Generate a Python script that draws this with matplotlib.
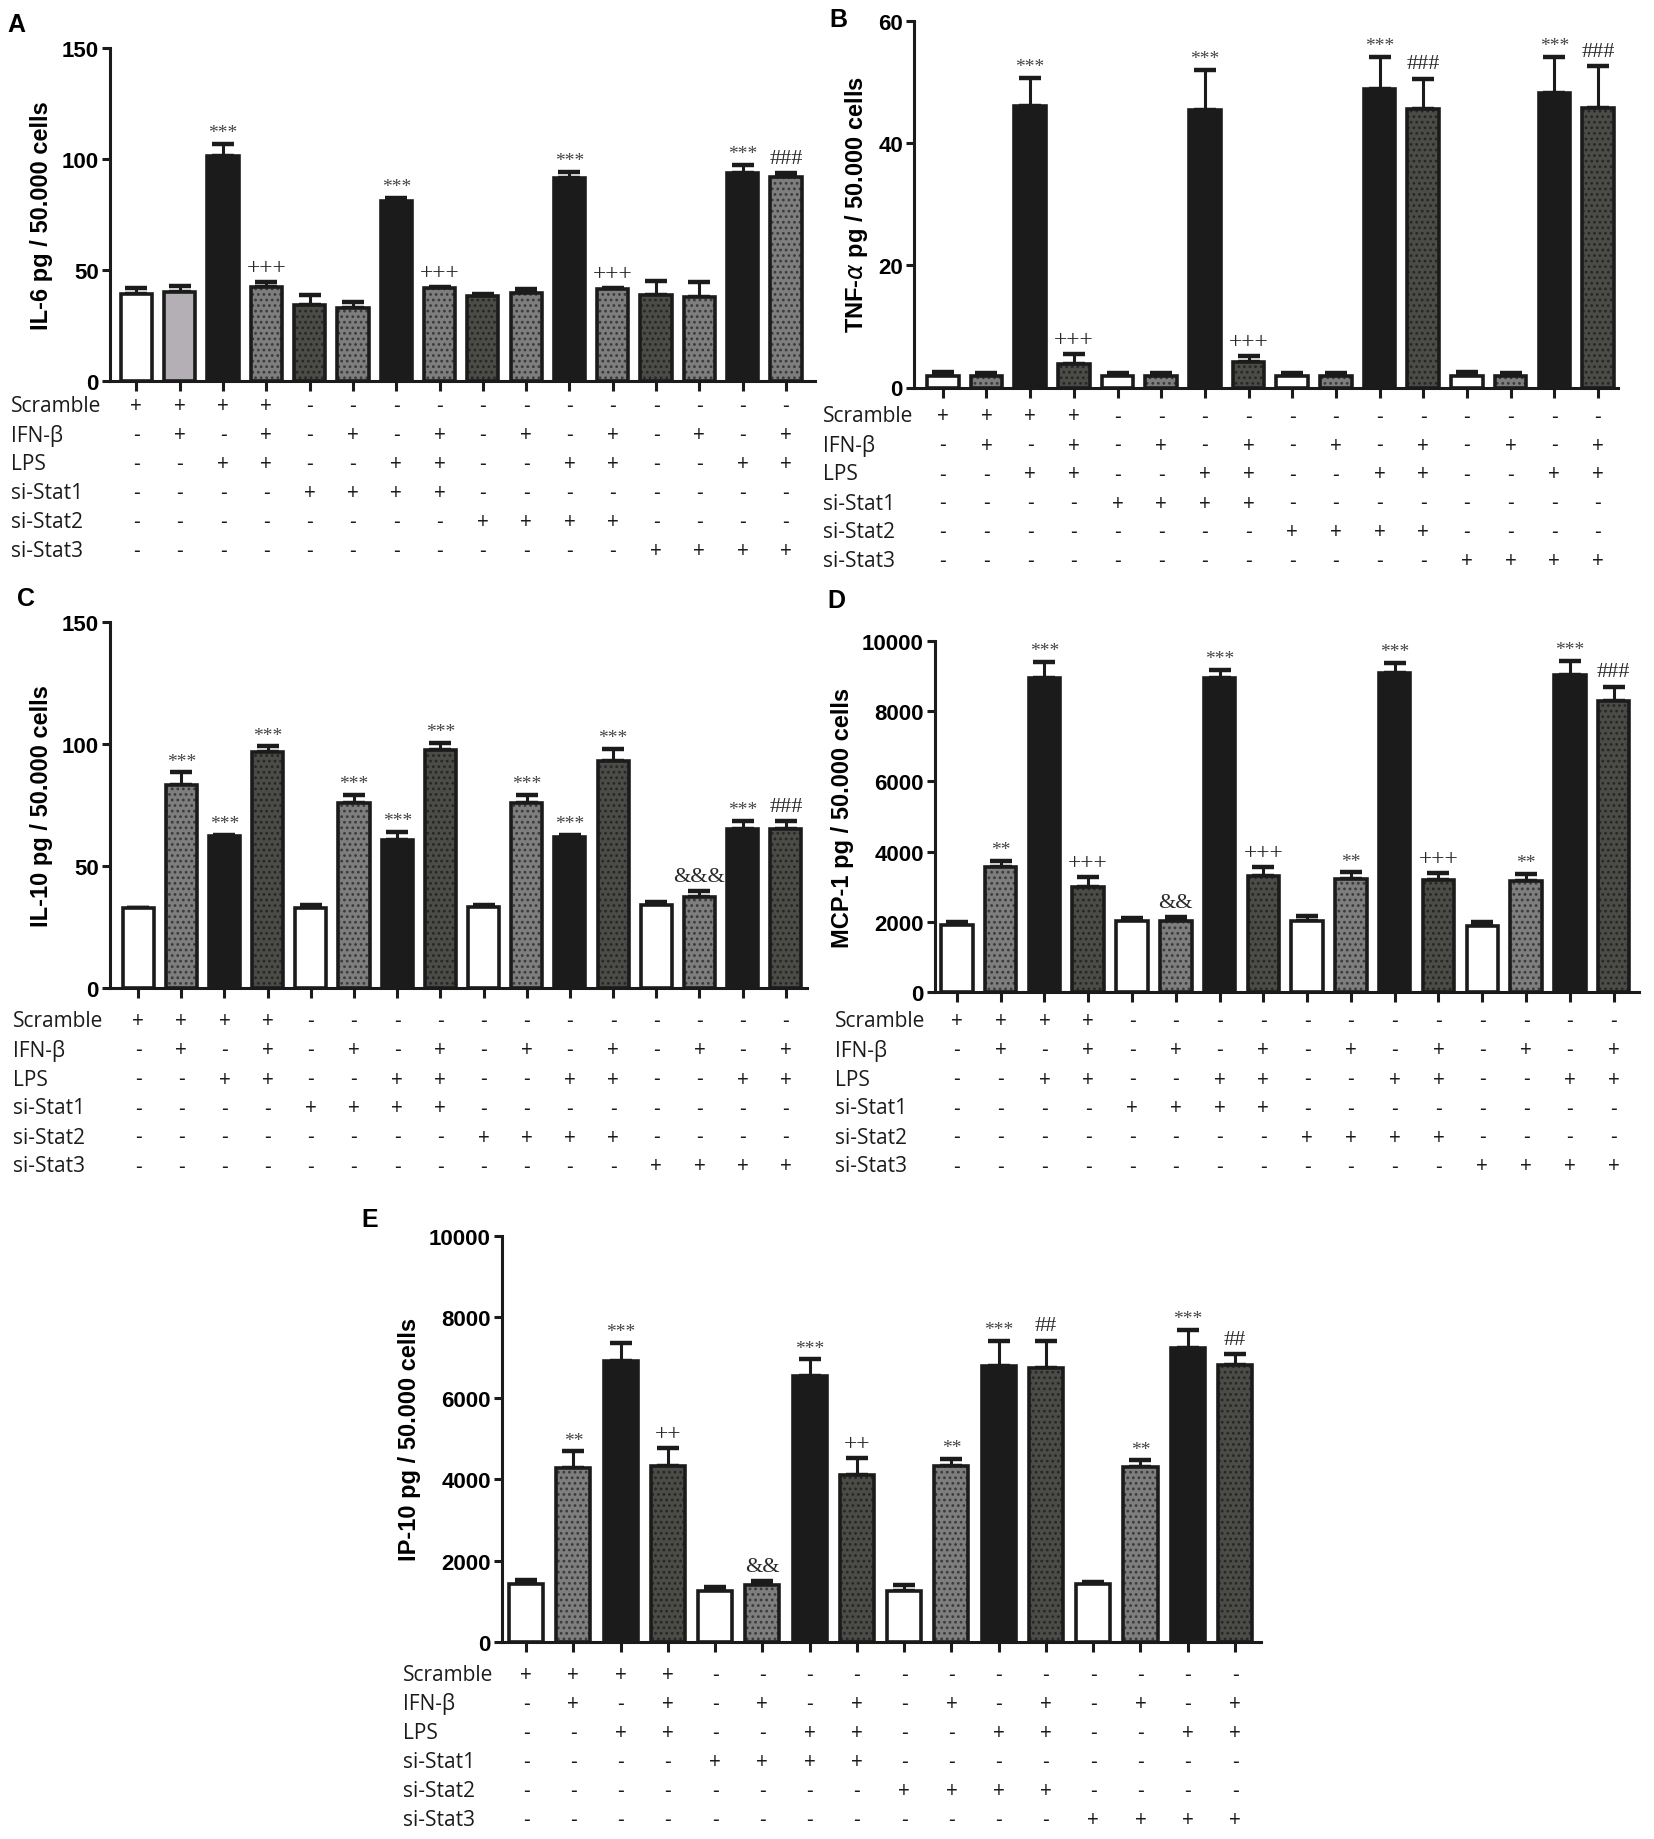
import numpy as np
import matplotlib
matplotlib.use("Agg")
import matplotlib.pyplot as plt
from matplotlib import transforms

# ---------------- data ----------------
conditions = ["Scramble", "IFN-β", "LPS", "si-Stat1", "si-Stat2", "si-Stat3"]
scramble = ["+", "+", "+", "+", "-", "-", "-", "-", "-", "-", "-", "-", "-", "-", "-", "-"]
ifn_b    = ["-", "+", "-", "+", "-", "+", "-", "+", "-", "+", "-", "+", "-", "+", "-", "+"]
lps      = ["-", "-", "+", "+", "-", "-", "+", "+", "-", "-", "+", "+", "-", "-", "+", "+"]
si_stat1 = ["-", "-", "-", "-", "+", "+", "+", "+", "-", "-", "-", "-", "-", "-", "-", "-"]
si_stat2 = ["-", "-", "-", "-", "-", "-", "-", "-", "+", "+", "+", "+", "-", "-", "-", "-"]
si_stat3 = ["-", "-", "-", "-", "-", "-", "-", "-", "-", "-", "-", "-", "+", "+", "+", "+"]
design = [scramble, ifn_b, lps, si_stat1, si_stat2, si_stat3]

il6      = [39.3, 40.2, 101.2, 42.5, 34.3, 32.8, 81.3, 42.0, 38.3, 39.7, 91.5, 41.3, 38.7, 38.0, 93.5, 92.0]
il6_err  = [2.7, 2.8, 5.5, 2.2, 4.5, 2.7, 1.2, 0.4, 0.9, 1.6, 2.8, 0.4, 6.5, 6.7, 3.8, 1.5]
il6_sig  = ["", "", "***", "+++", "", "", "***", "+++", "", "", "***", "+++", "", "", "***", "###"]

tnf      = [1.9, 1.9, 46.0, 3.9, 1.9, 1.9, 45.4, 4.1, 1.9, 1.9, 48.8, 45.5, 1.9, 1.9, 48.1, 45.7]
tnf_err  = [0.6, 0.5, 4.6, 1.5, 0.5, 0.5, 6.5, 1.0, 0.5, 0.5, 5.2, 5.0, 0.6, 0.5, 5.9, 6.8]
tnf_sig  = ["", "", "***", "+++", "", "", "***", "+++", "", "", "***", "###", "", "", "***", "###"]

il10     = [32.7, 83.3, 62.4, 96.7, 32.9, 76.0, 60.8, 97.7, 33.4, 76.0, 62.1, 93.2, 34.0, 37.3, 65.3, 65.2]
il10_err = [0.3, 5.0, 0.3, 2.3, 1.0, 3.1, 3.2, 2.6, 0.5, 3.2, 0.6, 4.8, 1.2, 2.4, 3.3, 3.2]
il10_sig = ["", "***", "***", "***", "", "***", "***", "***", "", "***", "***", "***", "", "&&&", "***", "###"]

mcp1     = [1903, 3558, 8952, 2995, 2016, 2038, 8952, 3322, 2016, 3221, 9099, 3187, 1892, 3164, 9020, 8300]
mcp1_err = [90, 192, 450, 271, 90, 90, 226, 248, 146, 191, 270, 214, 101, 214, 406, 394]
mcp1_sig = ["", "**", "***", "+++", "", "&&", "***", "+++", "", "**", "***", "+++", "", "**", "***", "###"]

ip10     = [1427, 4281, 6905, 4332, 1246, 1397, 6553, 4101, 1246, 4332, 6804, 6754, 1427, 4302, 7226, 6824]
ip10_err = [101, 412, 462, 432, 101, 100, 402, 422, 151, 181, 603, 663, 40, 170, 462, 261]
ip10_sig = ["", "**", "***", "++", "", "&&", "***", "++", "", "**", "***", "##", "", "**", "***", "##"]

yticks_A = [0, 50, 100, 150]
yticks_B = [0, 20, 40, 60]
yticks_C = [0, 50, 100, 150]
yticks_D = [0, 2000, 4000, 6000, 8000, 10000]
yticks_E = [0, 2000, 4000, 6000, 8000, 10000]

# ---------------- styles ----------------
STYLES = {
    "w": dict(fc="#ffffff", hatch=None, hc=None),
    "p": dict(fc="#b4afb4", hatch=None, hc=None),
    "k": dict(fc="#1b1b1b", hatch=None, hc=None),
    "g": dict(fc="#7e7e7e", hatch="...", hc="#3a3a3a"),
    "d": dict(fc="#4b4b47", hatch="...", hc="#262624"),
}
style_A = ["w", "p", "k", "g", "d", "g", "k", "g", "d", "g", "k", "g", "d", "g", "k", "g"]
style_std = ["w", "g", "k", "d"] * 4

W, H = 1654, 1840
fig = plt.figure(figsize=(W / 100, H / 100), dpi=100)
plt.rcParams["hatch.linewidth"] = 1.2

LABEL_FONT = ["Open Sans", "DejaVu Sans"]
BOLD_FONT = ["Liberation Sans", "DejaVu Sans"]
SIG_FONT = ["Liberation Serif", "DejaVu Serif"]

panels = [
    dict(letter="A", letter_xy=(16, 25), rect=(110, 49, 815, 382), xlim=(-0.61, 15.67),
         vals=il6, err=il6_err, sig=il6_sig, yticks=yticks_A, styles=style_A,
         ylabel="IL-6 pg / 50.000 cells", row0=406.7, labx=10.6),
    dict(letter="B", letter_xy=(838, 20), rect=(914, 21.5, 1618, 388.5), xlim=(-0.66, 15.46),
         vals=tnf, err=tnf_err, sig=tnf_sig, yticks=yticks_B, styles=style_std,
         ylabel="TNF-$\\alpha$ pg / 50.000 cells", row0=417, labx=823),
    dict(letter="C", letter_xy=(26, 599), rect=(110, 622.7, 807, 989.3), xlim=(-0.65, 15.49),
         vals=il10, err=il10_err, sig=il10_sig, yticks=yticks_C, styles=style_std,
         ylabel="IL-10 pg / 50.000 cells", row0=1022, labx=13),
    dict(letter="D", letter_xy=(836, 601), rect=(935, 642, 1639, 993.2), xlim=(-0.5, 15.58),
         vals=mcp1, err=mcp1_err, sig=mcp1_sig, yticks=yticks_D, styles=style_std,
         ylabel="MCP-1 pg / 50.000 cells", row0=1022, labx=835),
    dict(letter="E", letter_xy=(370, 1220), rect=(502, 1236.7, 1261, 1643), xlim=(-0.51, 15.55),
         vals=ip10, err=ip10_err, sig=ip10_sig, yticks=yticks_E, styles=style_std,
         ylabel="IP-10 pg / 50.000 cells", row0=1675.5, labx=403),
]
ROW_STEP = 29.0
BAR_W = 0.72

for p in panels:
    x0, y0, x1, y1 = p["rect"]
    ax = fig.add_axes([x0 / W, 1 - y1 / H, (x1 - x0) / W, (y1 - y0) / H])
    n = len(p["vals"])
    x = np.arange(n)
    vals = np.array(p["vals"], dtype=float)
    err = np.array(p["err"], dtype=float)

    # error bars (upper only)
    ax.errorbar(x, vals, yerr=[np.zeros(n), err], fmt="none", ecolor="#1b1b1b",
                elinewidth=2.2, capsize=8, capthick=3.2, zorder=1)
    # filled bars with hatch
    for i in range(n):
        st = STYLES[p["styles"][i]]
        ax.bar(x[i], vals[i], width=BAR_W, color=st["fc"],
               edgecolor=st["hc"] if st["hc"] else st["fc"],
               hatch=st["hatch"], linewidth=0, zorder=2)
    # outlines
    ax.bar(x, vals, width=BAR_W, facecolor="none", edgecolor="#1b1b1b",
           linewidth=2.6, joinstyle="miter", zorder=3)

    # significance marks
    for i in range(n):
        s = p["sig"][i]
        if not s:
            continue
        if "*" in s:
            ax.annotate(s, xy=(x[i], vals[i] + err[i]), xytext=(0, 2),
                        textcoords="offset points", ha="center", va="bottom",
                        fontsize=14, family=SIG_FONT, color="#444444")
        elif "+" in s:
            ax.annotate(s, xy=(x[i], vals[i] + err[i]), xytext=(0, 3),
                        textcoords="offset points", ha="center", va="bottom",
                        fontsize=17, family=SIG_FONT, color="#2a2a2a")
        else:
            ax.annotate(s, xy=(x[i], vals[i] + err[i]), xytext=(0, 4),
                        textcoords="offset points", ha="center", va="bottom",
                        fontsize=16, family=SIG_FONT, color="#2a2a2a")

    ax.set_xlim(*p["xlim"])
    ax.set_ylim(p["yticks"][0], p["yticks"][-1])
    ax.set_yticks(p["yticks"])
    ax.set_yticklabels([str(t) for t in p["yticks"]], fontsize=16,
                       fontweight="bold", family=BOLD_FONT)
    ax.set_xticks(x)
    ax.set_xticklabels([])
    for side in ("top", "right"):
        ax.spines[side].set_visible(False)
    for side in ("left", "bottom"):
        ax.spines[side].set_linewidth(2.2)
        ax.spines[side].set_color("#1b1b1b")
    ax.tick_params(axis="x", direction="out", length=7, width=2.2, color="#1b1b1b")
    ax.tick_params(axis="y", direction="out", length=6, width=2.2, color="#1b1b1b", pad=2)
    ax.set_ylabel(p["ylabel"], fontsize=17, fontweight="bold", family=BOLD_FONT, labelpad=6)

    # treatment table
    trans = transforms.blended_transform_factory(ax.transData, fig.transFigure)
    for r, (cond, row) in enumerate(zip(conditions, design)):
        yy = 1 - (p["row0"] + r * ROW_STEP) / H
        fig.text(p["labx"] / W, yy, cond, ha="left", va="center", fontsize=15,
                 family=LABEL_FONT, color="#1b1b1b")
        for i, sym in enumerate(row):
            ax.text(x[i], yy, sym, transform=trans, ha="center", va="center",
                    fontsize=15, family=LABEL_FONT, color="#1b1b1b", clip_on=False)

    lx, ly = p["letter_xy"]
    fig.text(lx / W, 1 - ly / H, p["letter"], ha="center", va="center",
             fontsize=18, fontweight="bold", family=BOLD_FONT)

fig.savefig("out.png", dpi=100, facecolor="white")
